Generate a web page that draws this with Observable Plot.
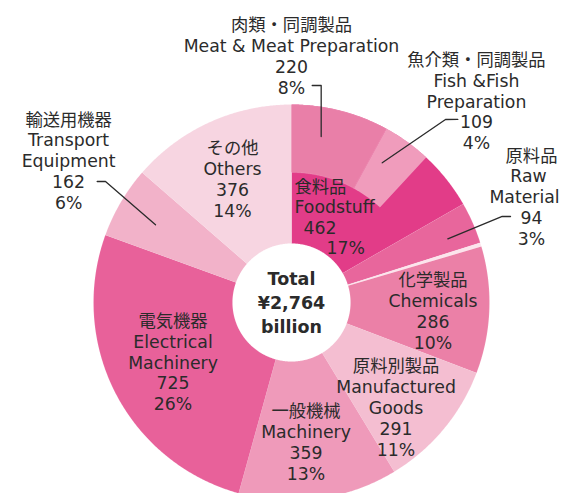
<!DOCTYPE html>
<html><head><meta charset="utf-8">
<script src="https://cdn.jsdelivr.net/npm/d3@7"></script>
<script src="https://cdn.jsdelivr.net/npm/@observablehq/plot@0.6"></script>
<style>body{margin:0;background:#fff}#chart svg{display:block}</style>
</head><body><div id="chart"></div>
<script>
// ---- data ----
const categoryJa = ["食料品","原料品","鉱物性燃料","化学製品","原料別製品","一般機械","電気機器","輸送用機器","その他"];
const categoryEn = ["Foodstuff","Raw\nMaterial","Mineral Fuels","Chemicals","Manufactured\nGoods","Machinery","Electrical\nMachinery","Transport\nEquipment","Others"];
const values = [462, 94, 9, 286, 291, 359, 725, 162, 376];
const subJa = ["肉類・同調製品","魚介類・同調製品"];
const subEn = ["Meat & Meat Preparation","Fish &Fish\nPreparation"];
const subValues = [220, 109];
const totalLabel = ["Total","¥2,764","billion"];

// ---- styles / layout ----
const colors = ["#e23c88","#e8669c","#fce4ec","#eb80a7","#f4bed1","#ef9aba","#e8619a","#f2b2c9","#f7d5e1"];
const subColors = ["#e97fa8","#f09cbc"];
const R_IN = 59, R_SUB = 130, R_OUT = 198;
// label anchors in polar form (angle clockwise from north in degrees, radius)
const catLabelPos = [
  {a: 2.03, r: 84.6, anchor: "start", dxs: [0, 0, 9, 32], gap: 20.3},
  {a: 66.4, r: 261.9, dxs: [0, -3, -7, 0, 0]},
  null,
  {a: 93.9, r: 141.8},
  {a: 135.4, r: 148.9},
  {a: 174.1, r: 141.4},
  {a: 242.9, r: 133.1},
  {a: -57.7, r: 263.7},
  {a: -25.7, r: 136.0}
];
const subLabelPos = [{a: 0, r: 245.5}, {a: 42.7, r: 272.7}];
const leaders = [
  [[5.45, 218], [7.79, 219], [10.14, 168.6]],
  [[42.26, 247.3], [40.08, 239.2], [33.0, 166.6]],
  [[68.56, 235.3], [67.79, 227.6], [67.83, 168.8]],
  [[-58.09, 228.9], [-56.95, 221.9], [-60.26, 156.6]]
];

// ---- build ----
const total = d3.sum(values);
const angle = d3.scaleLinear().domain([0, total]).range([0, 360]);
const rad = a => a * Math.PI / 180;
const px = (a, r) => r * Math.sin(rad(a));
const py = (a, r) => r * Math.cos(rad(a));
const pct = v => Math.round(v / total * 100) + "%";

function wedge(id, a0, a1, r0, r1, color) {
  const n = Math.max(2, Math.ceil((a1 - a0) / 0.4));
  const pts = [];
  for (let i = 0; i <= n; i++) { const a = a0 + (a1 - a0) * i / n; pts.push({id, x: px(a, r1), y: py(a, r1), color}); }
  for (let i = n; i >= 0; i--) { const a = a0 + (a1 - a0) * i / n; pts.push({id, x: px(a, r0), y: py(a, r0), color}); }
  return pts;
}

const cum = [0, ...d3.cumsum(values)];
let poly = [];
values.forEach((v, i) => { poly = poly.concat(wedge("c" + i, angle(cum[i]), angle(cum[i + 1]), R_IN, R_OUT, colors[i])); });
const subCum = [0, ...d3.cumsum(subValues)];
subValues.forEach((v, i) => { poly = poly.concat(wedge("s" + i, angle(subCum[i]), angle(subCum[i + 1]), R_SUB, R_OUT, subColors[i])); });

const LH = 20.8;
const texts = [];
function addLabel(lines, pos) {
  const gap = pos.gap || LH;
  const cx = px(pos.a, pos.r), cy = py(pos.a, pos.r);
  lines.forEach((t, k) => {
    texts.push({x: cx + (pos.dxs ? pos.dxs[k] : 0), y: cy - (k - (lines.length - 1) / 2) * gap, text: t,
      anchor: pos.anchor || "middle"});
  });
}
values.forEach((v, i) => {
  if (!catLabelPos[i]) return;
  addLabel([categoryJa[i], ...categoryEn[i].split("\n"), String(v), pct(v)], catLabelPos[i]);
});
subValues.forEach((v, i) => {
  addLabel([subJa[i], ...subEn[i].split("\n"), String(v), pct(v)], subLabelPos[i]);
});
const totalTexts = totalLabel.map((t, k) => ({x: 0, y: -1 - (k - 1) * 23.7, text: t}));

const leaderPts = leaders.flatMap((L, j) => L.map(([a, r]) => ({id: j, x: px(a, r), y: py(a, r)})));

const FONT = "DejaVu Sans, Noto Sans CJK JP, sans-serif";
const chart = Plot.plot({
  width: 561, height: 493, margin: 0,
  x: {domain: [-291, 270], range: [0, 561], axis: null},
  y: {domain: [-191, 302], range: [493, 0], axis: null},
  color: {type: "identity"},
  style: {background: "#fff"},
  marks: [
    Plot.line(poly, {x: "x", y: "y", z: "id", fill: "color", stroke: "#fff", strokeWidth: 0.5, strokeOpacity: 0.25, curve: "linear"}),
    Plot.line(leaderPts, {x: "x", y: "y", z: "id", stroke: "#2b2b2b", strokeWidth: 1.3}),
    Plot.text(texts.filter(d => d.anchor === "middle"), {x: "x", y: "y", text: "text", textAnchor: "middle", fontSize: 17.3, fontFamily: FONT, fill: "#2b2b2b"}),
    Plot.text(texts.filter(d => d.anchor === "start"), {x: "x", y: "y", text: "text", textAnchor: "start", fontSize: 17.3, fontFamily: FONT, fill: "#2b2b2b"}),
    Plot.text(totalTexts, {x: "x", y: "y", text: "text", fontSize: 17.5, fontWeight: "bold", fontFamily: FONT, fill: "#2b2b2b"})
  ]
});
document.getElementById("chart").appendChild(chart);
</script>
</body></html>
